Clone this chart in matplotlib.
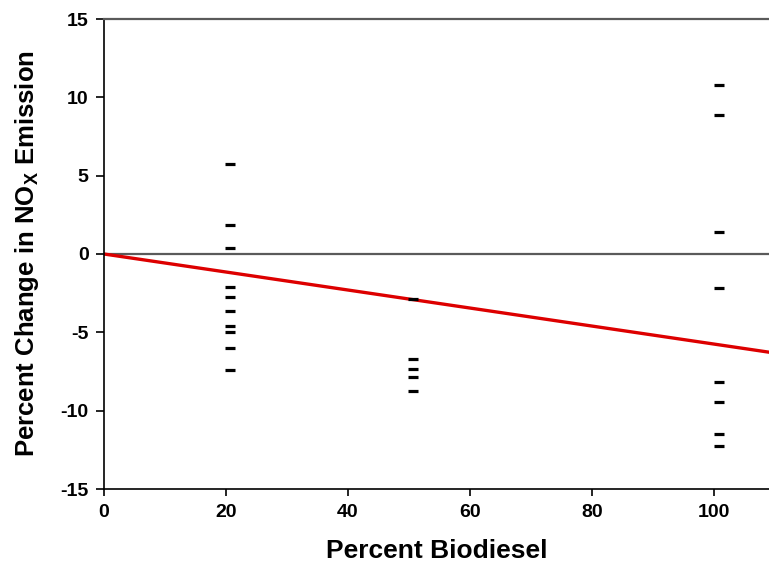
import matplotlib
matplotlib.use("Agg")
import matplotlib.pyplot as plt

plt.rcParams['font.family'] = ['Liberation Sans', 'DejaVu Sans']
plt.rcParams['font.weight'] = 'bold'
plt.rcParams['axes.unicode_minus'] = False
plt.rcParams['mathtext.fontset'] = 'custom'
plt.rcParams['mathtext.rm'] = 'Liberation Sans:bold'
plt.rcParams['mathtext.bf'] = 'Liberation Sans:bold'

# Data
x_b20 = [20.7] * 10
y_b20 = [5.74, 1.85, 0.40, -2.09, -2.76, -3.62, -4.59, -4.96, -5.98, -7.40]
x_b50 = [50.7] * 5
y_b50 = [-2.87, -6.72, -7.36, -7.87, -8.72]
x_b100 = [100.8] * 8
y_b100 = [10.79, 8.87, 1.42, -2.15, -8.15, -9.46, -11.49, -12.25]
fit_x = [0, 115]
fit_slope = -0.0575

xticks = [0, 20, 40, 60, 80, 100]
yticks = [-15, -10, -5, 0, 5, 10, 15]

fig = plt.figure(figsize=(7.69, 5.67), dpi=100)
ax = fig.add_axes([104/769, 1 - 489/567, 665/769, 470/567])

ax.axhline(0, color='#5a5a5a', lw=1.6, zorder=1)
ax.plot(fit_x, [fit_slope * v for v in fit_x], color='#dd0000', lw=2.4, zorder=2)
for xs, ys in [(x_b20, y_b20), (x_b50, y_b50), (x_b100, y_b100)]:
    ax.plot(xs, ys, linestyle='none', marker='_', markersize=6.5,
            markeredgewidth=2.3, color='black', zorder=3)

ax.set_xlim(0, 109)
ax.set_ylim(-15, 15)
ax.set_xticks(xticks)
ax.set_yticks(yticks)
ax.tick_params(axis='both', direction='out', labelsize=14, width=1.2, colors='black')
ax.tick_params(axis='y', length=6, pad=5)
ax.tick_params(axis='x', length=5, pad=6)
for lab in ax.get_xticklabels() + ax.get_yticklabels():
    lab.set_fontweight('bold')

ax.spines['right'].set_visible(False)
ax.spines['top'].set_color('#5a5a5a')
ax.spines['top'].set_linewidth(1.6)
ax.spines['left'].set_linewidth(1.2)
ax.spines['bottom'].set_linewidth(1.2)

ax.set_xlabel('Percent Biodiesel', fontsize=19, fontweight='bold', labelpad=13)
ax.set_ylabel(r'Percent Change in NO$_{\mathrm{X}}$ Emission', fontsize=18.5,
              fontweight='bold', labelpad=14)

fig.savefig('out.png', dpi=100)
